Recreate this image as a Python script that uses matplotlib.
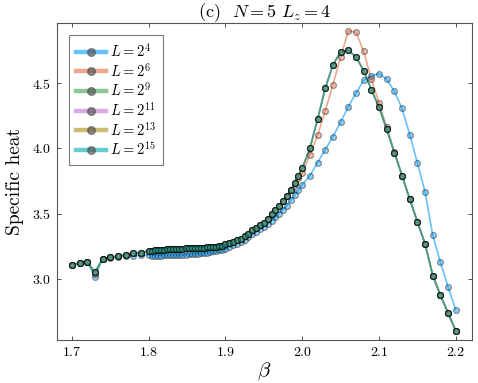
import matplotlib
matplotlib.use("Agg")
import matplotlib.pyplot as plt
from matplotlib.ticker import FuncFormatter
from matplotlib.lines import Line2D

plt.rcParams['font.family'] = 'serif'
plt.rcParams['font.serif'] = ['cmr10', 'DejaVu Serif']
plt.rcParams['mathtext.fontset'] = 'cm'
plt.rcParams['axes.unicode_minus'] = False

beta = [1.70, 1.71, 1.72, 1.73, 1.74, 1.75, 1.76, 1.77, 1.78, 1.79, 1.80,
        1.804, 1.808, 1.812, 1.816, 1.820, 1.824, 1.828, 1.832, 1.836, 1.840,
        1.844, 1.848, 1.852, 1.856, 1.860, 1.864, 1.868, 1.872, 1.876, 1.880,
        1.884, 1.888, 1.892, 1.896, 1.900,
        1.905, 1.910, 1.915, 1.920, 1.925, 1.930, 1.935, 1.940, 1.945, 1.950,
        1.955, 1.960, 1.965, 1.970, 1.975, 1.980, 1.985, 1.990, 1.995, 2.000,
        2.01, 2.02, 2.03, 2.04, 2.05, 2.06, 2.07, 2.08, 2.09, 2.10,
        2.11, 2.12, 2.13, 2.14, 2.15, 2.16, 2.17, 2.18, 2.19, 2.20]

c_L4 = [3.108, 3.120, 3.130, 3.013, 3.152, 3.160, 3.168, 3.175, 3.177, 3.180, 3.180,
        3.178, 3.178, 3.178, 3.178, 3.179, 3.179, 3.180, 3.180, 3.181, 3.182,
        3.183, 3.184, 3.186, 3.188, 3.190, 3.192, 3.195, 3.198, 3.201, 3.205,
        3.209, 3.213, 3.218, 3.222, 3.228,
        3.240, 3.256, 3.270, 3.280, 3.300, 3.320, 3.340, 3.360, 3.380, 3.400,
        3.420, 3.445, 3.470, 3.500, 3.530, 3.560, 3.600, 3.640, 3.680, 3.720,
        3.790, 3.890, 3.990, 4.090, 4.200, 4.318, 4.423, 4.520, 4.555, 4.572,
        4.530, 4.436, 4.305, 4.105, 3.887, 3.665, 3.333, 3.125, 2.936, 2.760]

c_big = [3.108, 3.120, 3.130, 3.050, 3.154, 3.164, 3.172, 3.185, 3.195, 3.200, 3.213,
         3.216, 3.219, 3.221, 3.223, 3.224, 3.226, 3.227, 3.228, 3.229, 3.230,
         3.231, 3.232, 3.233, 3.234, 3.235, 3.236, 3.237, 3.238, 3.240, 3.241,
         3.243, 3.245, 3.248, 3.252, 3.268,
         3.274, 3.282, 3.295, 3.308, 3.326, 3.346, 3.370, 3.390, 3.410, 3.430,
         3.460, 3.495, 3.525, 3.560, 3.595, 3.635, 3.680, 3.730, 3.790, 3.846,
         4.000, 4.223, 4.460, 4.640, 4.738, 4.750, 4.700, 4.595, 4.450, 4.313,
         4.146, 3.967, 3.790, 3.610, 3.436, 3.267, 3.025, 2.874, 2.736, 2.600]

c_L6 = [3.108, 3.120, 3.130, 3.040, 3.154, 3.164, 3.172, 3.185, 3.195, 3.200, 3.213,
        3.216, 3.219, 3.221, 3.223, 3.224, 3.226, 3.227, 3.228, 3.229, 3.230,
        3.231, 3.232, 3.233, 3.234, 3.235, 3.236, 3.237, 3.238, 3.240, 3.241,
        3.243, 3.245, 3.248, 3.252, 3.268,
        3.274, 3.282, 3.295, 3.308, 3.326, 3.346, 3.370, 3.390, 3.410, 3.430,
        3.460, 3.495, 3.525, 3.560, 3.595, 3.635, 3.680, 3.725, 3.770, 3.810,
        3.950, 4.100, 4.287, 4.487, 4.700, 4.898, 4.890, 4.743, 4.530, 4.346,
        4.160, 3.970, 3.790, 3.610, 3.436, 3.267, 3.025, 2.874, 2.736, 2.600]

c_L9 = c_big
c_L11 = c_big
c_L13 = c_big
c_L15 = c_big

labels = [r"$L = 2^{4}$", r"$L = 2^{6}$", r"$L = 2^{9}$",
          r"$L = 2^{11}$", r"$L = 2^{13}$", r"$L = 2^{15}$"]
series = [c_L4, c_L6, c_L9, c_L11, c_L13, c_L15]
colors = ["#009AFA", "#E36F47", "#3EA44E", "#C371D2", "#AC8E18", "#00AAAE"]

xticks = [1.7, 1.8, 1.9, 2.0, 2.1, 2.2]
yticks = [3.0, 3.5, 4.0, 4.5]

fig = plt.figure(figsize=(4.78, 3.83), dpi=100)
ax = fig.add_axes([0.119, 0.112, 0.868, 0.828])

for y, c, lab in zip(series, colors, labels):
    ax.plot(beta, y, color=c, alpha=0.6, lw=1.2, zorder=2)
    ax.plot(beta, y, ls='none', marker='o', ms=4.2, mfc=c, mec='black',
            mew=0.9, alpha=0.4, zorder=3)

handles = [Line2D([], [], color=c, lw=3.2, alpha=0.6, marker='o', ms=5.5,
                  mfc='#4a4a4a', mec='#4a4a4a') for c in colors]
leg = ax.legend(handles, labels, loc='upper left', fontsize=10.5,
                frameon=True, fancybox=False, edgecolor='#555555',
                handlelength=2.1, handletextpad=0.25, labelspacing=0.12,
                borderpad=0.45, borderaxespad=0.85)
leg.get_frame().set_linewidth(0.8)

ax.set_xlim(1.6805, 2.2208)
ax.set_ylim(2.53, 4.96)
ax.set_xticks(xticks)
ax.set_yticks(yticks)
ax.xaxis.set_major_formatter(FuncFormatter(lambda v, p: f"${v:.1f}$"))
ax.yaxis.set_major_formatter(FuncFormatter(lambda v, p: f"${v:.1f}$"))
ax.tick_params(direction='in', length=3, width=0.6, colors='#333333',
               labelsize=10, top=True, right=True, labelcolor='black', pad=4)
for s in ax.spines.values():
    s.set_color('#555555')
    s.set_linewidth(0.8)

ax.set_xlabel(r"$\beta$", fontsize=15, labelpad=1)
ax.set_ylabel("Specific heat", fontsize=14, labelpad=6)
ax.set_title(r"(c)  $N = 5\ L_z = 4$", fontsize=13, pad=4)

fig.savefig("out.png", dpi=100)
